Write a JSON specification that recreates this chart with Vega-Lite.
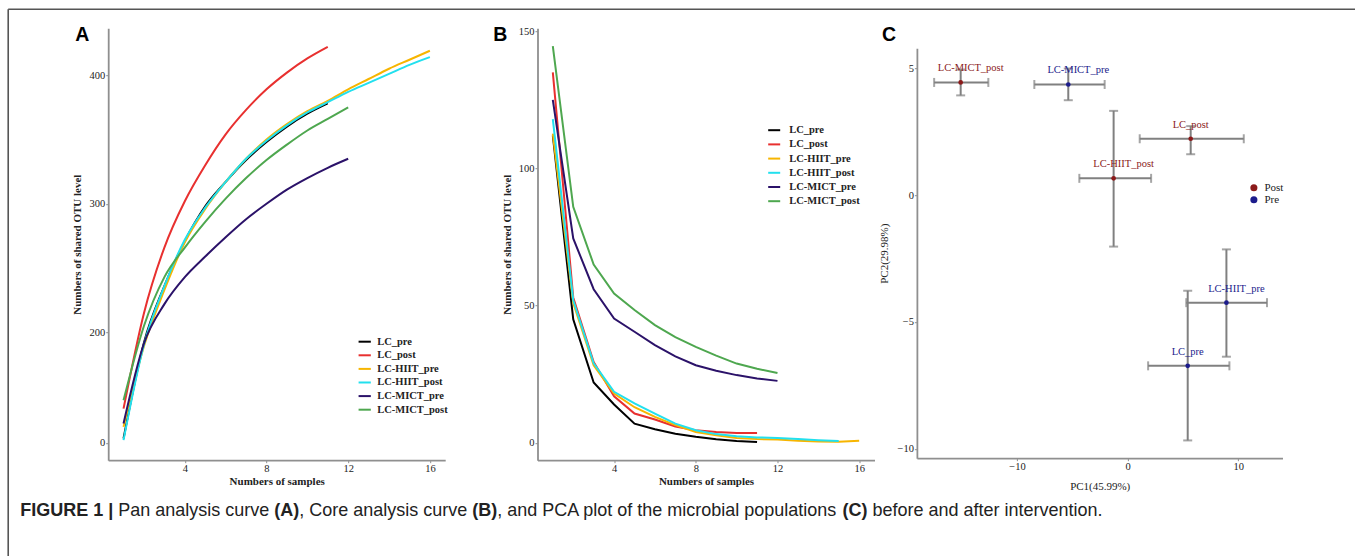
{
 "$schema": "https://vega.github.io/schema/vega-lite/v6.json",
 "padding": {"left": 7.2, "top": 8.2, "right": 0, "bottom": 0},
 "background": "white",
 "config": {
  "view": {"stroke": null},
  "axis": {"grid": false, "domainColor": "#8f8f8f", "domainWidth": 1.8, "tickColor": "#8f8f8f", "tickSize": 2.5, "tickWidth": 1, "labelFont": "Liberation Serif", "labelFontSize": 10.5, "labelColor": "#222", "labelPadding": 1, "titleFont": "Liberation Serif", "titleFontSize": 11, "titleFontWeight": "bold", "titleColor": "#222"},
  "legend": {"labelFont": "Liberation Serif", "labelFontSize": 10.5, "labelFontWeight": "bold", "labelColor": "#222"}
 },
 "datasets": {
  "pan": [
   {"group": "LC_pre", "samples": 1, "otu": 117.6}, {"group": "LC_pre", "samples": 2, "otu": 192}, {"group": "LC_pre", "samples": 3, "otu": 236}, {"group": "LC_pre", "samples": 4, "otu": 271}, {"group": "LC_pre", "samples": 5, "otu": 298}, {"group": "LC_pre", "samples": 6, "otu": 317}, {"group": "LC_pre", "samples": 7, "otu": 334}, {"group": "LC_pre", "samples": 8, "otu": 348}, {"group": "LC_pre", "samples": 9, "otu": 360}, {"group": "LC_pre", "samples": 10, "otu": 370}, {"group": "LC_pre", "samples": 11, "otu": 378},
   {"group": "LC_post", "samples": 1, "otu": 140.8}, {"group": "LC_post", "samples": 2, "otu": 215}, {"group": "LC_post", "samples": 3, "otu": 266}, {"group": "LC_post", "samples": 4, "otu": 302}, {"group": "LC_post", "samples": 5, "otu": 330}, {"group": "LC_post", "samples": 6, "otu": 354}, {"group": "LC_post", "samples": 7, "otu": 373}, {"group": "LC_post", "samples": 8, "otu": 389}, {"group": "LC_post", "samples": 9, "otu": 402}, {"group": "LC_post", "samples": 10, "otu": 413}, {"group": "LC_post", "samples": 11, "otu": 422},
   {"group": "LC-HIIT_pre", "samples": 1, "otu": 126.6}, {"group": "LC-HIIT_pre", "samples": 2, "otu": 189.3}, {"group": "LC-HIIT_pre", "samples": 3, "otu": 233}, {"group": "LC-HIIT_pre", "samples": 4, "otu": 270}, {"group": "LC-HIIT_pre", "samples": 5, "otu": 296}, {"group": "LC-HIIT_pre", "samples": 6, "otu": 317}, {"group": "LC-HIIT_pre", "samples": 7, "otu": 335}, {"group": "LC-HIIT_pre", "samples": 8, "otu": 350}, {"group": "LC-HIIT_pre", "samples": 9, "otu": 362}, {"group": "LC-HIIT_pre", "samples": 10, "otu": 372}, {"group": "LC-HIIT_pre", "samples": 11, "otu": 380}, {"group": "LC-HIIT_pre", "samples": 12, "otu": 389}, {"group": "LC-HIIT_pre", "samples": 13, "otu": 397}, {"group": "LC-HIIT_pre", "samples": 14, "otu": 405}, {"group": "LC-HIIT_pre", "samples": 15, "otu": 412}, {"group": "LC-HIIT_pre", "samples": 16, "otu": 419},
   {"group": "LC-HIIT_post", "samples": 1, "otu": 116.3}, {"group": "LC-HIIT_post", "samples": 2, "otu": 190.6}, {"group": "LC-HIIT_post", "samples": 3, "otu": 236}, {"group": "LC-HIIT_post", "samples": 4, "otu": 272}, {"group": "LC-HIIT_post", "samples": 5, "otu": 297}, {"group": "LC-HIIT_post", "samples": 6, "otu": 317}, {"group": "LC-HIIT_post", "samples": 7, "otu": 335}, {"group": "LC-HIIT_post", "samples": 8, "otu": 349}, {"group": "LC-HIIT_post", "samples": 9, "otu": 361}, {"group": "LC-HIIT_post", "samples": 10, "otu": 371}, {"group": "LC-HIIT_post", "samples": 11, "otu": 379}, {"group": "LC-HIIT_post", "samples": 12, "otu": 387}, {"group": "LC-HIIT_post", "samples": 13, "otu": 394}, {"group": "LC-HIIT_post", "samples": 14, "otu": 401}, {"group": "LC-HIIT_post", "samples": 15, "otu": 408}, {"group": "LC-HIIT_post", "samples": 16, "otu": 414},
   {"group": "LC-MICT_pre", "samples": 1, "otu": 129.2}, {"group": "LC-MICT_pre", "samples": 2, "otu": 191.4}, {"group": "LC-MICT_pre", "samples": 3, "otu": 222}, {"group": "LC-MICT_pre", "samples": 4, "otu": 243}, {"group": "LC-MICT_pre", "samples": 5, "otu": 259}, {"group": "LC-MICT_pre", "samples": 6, "otu": 274}, {"group": "LC-MICT_pre", "samples": 7, "otu": 288}, {"group": "LC-MICT_pre", "samples": 8, "otu": 300}, {"group": "LC-MICT_pre", "samples": 9, "otu": 311}, {"group": "LC-MICT_pre", "samples": 10, "otu": 320}, {"group": "LC-MICT_pre", "samples": 11, "otu": 328}, {"group": "LC-MICT_pre", "samples": 12, "otu": 335},
   {"group": "LC-MICT_post", "samples": 1, "otu": 147.2}, {"group": "LC-MICT_post", "samples": 2, "otu": 205}, {"group": "LC-MICT_post", "samples": 3, "otu": 243}, {"group": "LC-MICT_post", "samples": 4, "otu": 266}, {"group": "LC-MICT_post", "samples": 5, "otu": 286}, {"group": "LC-MICT_post", "samples": 6, "otu": 304}, {"group": "LC-MICT_post", "samples": 7, "otu": 320}, {"group": "LC-MICT_post", "samples": 8, "otu": 334}, {"group": "LC-MICT_post", "samples": 9, "otu": 346}, {"group": "LC-MICT_post", "samples": 10, "otu": 357}, {"group": "LC-MICT_post", "samples": 11, "otu": 366}, {"group": "LC-MICT_post", "samples": 12, "otu": 375}
  ],
  "core": [
   {"group": "LC_pre", "samples": 1, "otu": 112}, {"group": "LC_pre", "samples": 2, "otu": 45}, {"group": "LC_pre", "samples": 3, "otu": 22}, {"group": "LC_pre", "samples": 4, "otu": 14}, {"group": "LC_pre", "samples": 5, "otu": 7}, {"group": "LC_pre", "samples": 6, "otu": 5}, {"group": "LC_pre", "samples": 7, "otu": 3.3}, {"group": "LC_pre", "samples": 8, "otu": 2.2}, {"group": "LC_pre", "samples": 9, "otu": 1.3}, {"group": "LC_pre", "samples": 10, "otu": 0.7}, {"group": "LC_pre", "samples": 11, "otu": 0.3},
   {"group": "LC_post", "samples": 1, "otu": 135}, {"group": "LC_post", "samples": 2, "otu": 53}, {"group": "LC_post", "samples": 3, "otu": 29.5}, {"group": "LC_post", "samples": 4, "otu": 17}, {"group": "LC_post", "samples": 5, "otu": 10.7}, {"group": "LC_post", "samples": 6, "otu": 8.5}, {"group": "LC_post", "samples": 7, "otu": 6}, {"group": "LC_post", "samples": 8, "otu": 4.6}, {"group": "LC_post", "samples": 9, "otu": 4}, {"group": "LC_post", "samples": 10, "otu": 3.6}, {"group": "LC_post", "samples": 11, "otu": 3.6},
   {"group": "LC-HIIT_pre", "samples": 1, "otu": 112.7}, {"group": "LC-HIIT_pre", "samples": 2, "otu": 51}, {"group": "LC-HIIT_pre", "samples": 3, "otu": 28.3}, {"group": "LC-HIIT_pre", "samples": 4, "otu": 18}, {"group": "LC-HIIT_pre", "samples": 5, "otu": 13}, {"group": "LC-HIIT_pre", "samples": 6, "otu": 9.5}, {"group": "LC-HIIT_pre", "samples": 7, "otu": 6.5}, {"group": "LC-HIIT_pre", "samples": 8, "otu": 4}, {"group": "LC-HIIT_pre", "samples": 9, "otu": 2.8}, {"group": "LC-HIIT_pre", "samples": 10, "otu": 1.8}, {"group": "LC-HIIT_pre", "samples": 11, "otu": 1.4}, {"group": "LC-HIIT_pre", "samples": 12, "otu": 1.2}, {"group": "LC-HIIT_pre", "samples": 13, "otu": 0.8}, {"group": "LC-HIIT_pre", "samples": 14, "otu": 0.5}, {"group": "LC-HIIT_pre", "samples": 15, "otu": 0.4}, {"group": "LC-HIIT_pre", "samples": 16, "otu": 0.8},
   {"group": "LC-HIIT_post", "samples": 1, "otu": 118}, {"group": "LC-HIIT_post", "samples": 2, "otu": 52}, {"group": "LC-HIIT_post", "samples": 3, "otu": 29}, {"group": "LC-HIIT_post", "samples": 4, "otu": 18.6}, {"group": "LC-HIIT_post", "samples": 5, "otu": 14.4}, {"group": "LC-HIIT_post", "samples": 6, "otu": 10.7}, {"group": "LC-HIIT_post", "samples": 7, "otu": 7}, {"group": "LC-HIIT_post", "samples": 8, "otu": 4.6}, {"group": "LC-HIIT_post", "samples": 9, "otu": 3.2}, {"group": "LC-HIIT_post", "samples": 10, "otu": 2.4}, {"group": "LC-HIIT_post", "samples": 11, "otu": 2}, {"group": "LC-HIIT_post", "samples": 12, "otu": 1.8}, {"group": "LC-HIIT_post", "samples": 13, "otu": 1.4}, {"group": "LC-HIIT_post", "samples": 14, "otu": 1}, {"group": "LC-HIIT_post", "samples": 15, "otu": 0.7},
   {"group": "LC-MICT_pre", "samples": 1, "otu": 125}, {"group": "LC-MICT_pre", "samples": 2, "otu": 74.5}, {"group": "LC-MICT_pre", "samples": 3, "otu": 56}, {"group": "LC-MICT_pre", "samples": 4, "otu": 45.3}, {"group": "LC-MICT_pre", "samples": 5, "otu": 40.5}, {"group": "LC-MICT_pre", "samples": 6, "otu": 35.6}, {"group": "LC-MICT_pre", "samples": 7, "otu": 31.5}, {"group": "LC-MICT_pre", "samples": 8, "otu": 28.3}, {"group": "LC-MICT_pre", "samples": 9, "otu": 26.3}, {"group": "LC-MICT_pre", "samples": 10, "otu": 24.7}, {"group": "LC-MICT_pre", "samples": 11, "otu": 23.5}, {"group": "LC-MICT_pre", "samples": 12, "otu": 22.6},
   {"group": "LC-MICT_post", "samples": 1, "otu": 144.6}, {"group": "LC-MICT_post", "samples": 2, "otu": 86}, {"group": "LC-MICT_post", "samples": 3, "otu": 65}, {"group": "LC-MICT_post", "samples": 4, "otu": 54.4}, {"group": "LC-MICT_post", "samples": 5, "otu": 48.4}, {"group": "LC-MICT_post", "samples": 6, "otu": 42.9}, {"group": "LC-MICT_post", "samples": 7, "otu": 38.5}, {"group": "LC-MICT_post", "samples": 8, "otu": 35}, {"group": "LC-MICT_post", "samples": 9, "otu": 31.8}, {"group": "LC-MICT_post", "samples": 10, "otu": 28.9}, {"group": "LC-MICT_post", "samples": 11, "otu": 27}, {"group": "LC-MICT_post", "samples": 12, "otu": 25.5}
  ],
  "pca": [
   {"group": "LC-MICT_post", "status": "Post", "pc1": -15.1, "pc2": 4.44, "x_lo": -17.5, "x_hi": -12.6, "y_lo": 3.93, "y_hi": 4.95},
   {"group": "LC-MICT_pre", "status": "Pre", "pc1": -5.37, "pc2": 4.36, "x_lo": -8.44, "x_hi": -2.08, "y_lo": 3.74, "y_hi": 4.99},
   {"group": "LC_post", "status": "Post", "pc1": 5.7, "pc2": 2.22, "x_lo": 1.09, "x_hi": 10.5, "y_lo": 1.61, "y_hi": 2.72},
   {"group": "LC-HIIT_post", "status": "Post", "pc1": -1.27, "pc2": 0.66, "x_lo": -4.37, "x_hi": 2.12, "y_lo": -2.03, "y_hi": 3.32},
   {"group": "LC-HIIT_pre", "status": "Pre", "pc1": 8.93, "pc2": -4.24, "x_lo": 5.3, "x_hi": 12.6, "y_lo": -6.37, "y_hi": -2.14},
   {"group": "LC_pre", "status": "Pre", "pc1": 5.43, "pc2": -6.73, "x_lo": 1.85, "x_hi": 9.2, "y_lo": -9.67, "y_hi": -3.77}
  ],
  "caption": [
   {"text": "FIGURE 1 |", "kind": "bold", "start": 0},
   {"text": "Pan analysis curve", "kind": "plain", "start": 98.1},
   {"text": "(A)", "kind": "bold", "start": 254.1},
   {"text": ", Core analysis curve", "kind": "plain", "start": 279.1},
   {"text": "(B)", "kind": "bold", "start": 452.1},
   {"text": ", and PCA plot of the microbial populations", "kind": "plain", "start": 477.1},
   {"text": "(C)", "kind": "bold", "start": 822.3},
   {"text": "before and after intervention.", "kind": "plain", "start": 852.3}
  ],
  "frame": [
   {"side": "top", "x1": 0, "x2": 1, "y1": 0, "y2": 0},
   {"side": "left", "x1": 0, "x2": 0, "y1": 0, "y2": 1}
  ]
 },
 "bounds": "flush",
 "spacing": 92.3,
 "resolve": {"scale": {"color": "independent"}, "legend": {"color": "independent"}},
 "hconcat": [
  {
   "width": 337, "height": 432,
   "title": {"text": "A", "anchor": "start", "frame": "group", "font": "Liberation Sans", "fontSize": 19.5, "fontWeight": "bold", "color": "#000", "offset": 0, "baseline": "bottom", "dx": -33, "dy": 56},
   "resolve": {"scale": {"x": "independent", "y": "independent", "color": "independent"}},
   "layer": [
    {
     "data": {"name": "pan"},
     "mark": {"type": "line", "interpolate": "monotone", "strokeWidth": 2},
     "encoding": {
      "x": {"field": "samples", "type": "quantitative", "scale": {"domain": [0.25, 16.75], "nice": false, "zero": false}, "axis": {"values": [4, 8, 12, 16], "title": "Numbers of samples", "titlePadding": 1}},
      "y": {"field": "otu", "type": "quantitative", "scale": {"domain": [100.7, 436.5], "nice": false, "zero": false}, "axis": {"values": [114.2, 200, 300, 400], "labelExpr": "datum.value < 150 ? '0' : datum.label", "title": "Numbers of shared OTU level", "titlePadding": 6}},
      "color": {"field": "group", "type": "nominal",
       "scale": {"domain": ["LC_pre", "LC_post", "LC-HIIT_pre", "LC-HIIT_post", "LC-MICT_pre", "LC-MICT_post"], "range": ["#000000", "#e8302f", "#f7b500", "#22e0ee", "#2b1269", "#4ea74f"]},
       "legend": {"title": null, "orient": "none", "legendX": 249, "legendY": 306, "symbolType": "stroke", "symbolStrokeWidth": 2, "symbolSize": 150, "rowPadding": 0.6, "labelOffset": 5}}
     }
    },
    {
     "data": {"name": "caption"},
     "transform": [{"filter": "datum.kind == 'bold'"}],
     "mark": {"type": "text", "align": "left", "baseline": "middle", "font": "Liberation Sans", "fontSize": 18, "fontWeight": "bold", "color": "#222"},
     "encoding": {"x": {"field": "start", "type": "quantitative", "scale": {"domain": [0, 1088], "range": [-88, 1000]}, "axis": null}, "y": {"datum": 0, "type": "quantitative", "scale": {"domain": [-1, 1], "range": [493, 473]}, "axis": null}, "text": {"field": "text"}}
    },
    {
     "data": {"name": "caption"},
     "transform": [{"filter": "datum.kind == 'plain'"}],
     "mark": {"type": "text", "align": "left", "baseline": "middle", "font": "Liberation Sans", "fontSize": 18, "color": "#222"},
     "encoding": {"x": {"field": "start", "type": "quantitative", "scale": {"domain": [0, 1088], "range": [-88, 1000]}, "axis": null}, "y": {"datum": 0, "type": "quantitative", "scale": {"domain": [-1, 1], "range": [493, 473]}, "axis": null}, "text": {"field": "text"}}
    },
    {
     "data": {"name": "frame"},
     "mark": {"type": "rule", "color": "#555", "strokeWidth": 1.6},
     "encoding": {
      "x": {"field": "x1", "type": "quantitative", "scale": {"domain": [0, 1], "range": [-100, 1247]}, "axis": null},
      "x2": {"field": "x2"},
      "y": {"field": "y1", "type": "quantitative", "scale": {"domain": [0, 1], "range": [-19, 528]}, "axis": null},
      "y2": {"field": "y2"}
     }
    }
   ]
  },
  {
   "bounds": "flush",
   "spacing": 42.4,
   "resolve": {"scale": {"color": "independent"}, "legend": {"color": "independent"}},
   "hconcat": [
    {
     "width": 337, "height": 432,
     "title": {"text": "B", "anchor": "start", "frame": "bounds", "font": "Liberation Sans", "fontSize": 19.5, "fontWeight": "bold", "color": "#000", "offset": 0, "baseline": "bottom", "dx": -8, "dy": 38},
     "data": {"name": "core"},
     "mark": {"type": "line", "strokeWidth": 2},
     "encoding": {
      "x": {"field": "samples", "type": "quantitative", "scale": {"domain": [0.25, 16.75], "nice": false, "zero": false}, "axis": {"values": [4, 8, 12, 16], "title": "Numbers of samples", "titlePadding": 1}},
      "y": {"field": "otu", "type": "quantitative", "scale": {"domain": [-6.3, 151.1], "nice": false, "zero": false}, "axis": {"values": [0, 50, 100, 150], "title": "Numbers of shared OTU level", "titlePadding": 6}},
      "color": {"field": "group", "type": "nominal",
       "scale": {"domain": ["LC_pre", "LC_post", "LC-HIIT_pre", "LC-HIIT_post", "LC-MICT_pre", "LC-MICT_post"], "range": ["#000000", "#e8302f", "#f7b500", "#22e0ee", "#2b1269", "#4ea74f"]},
       "legend": {"title": null, "orient": "none", "legendX": 229.7, "legendY": 95, "symbolType": "stroke", "symbolStrokeWidth": 2, "symbolSize": 144, "rowPadding": 1.2, "labelOffset": 8}}
     }
    },
    {
     "bounds": "flush",
     "spacing": 19,
     "resolve": {"scale": {"color": "independent"}, "legend": {"color": "independent"}},
     "vconcat": [
      {"width": 1, "height": 1, "data": {"values": [{}]}, "mark": {"type": "text", "text": ""}, "encoding": {}},
      {
       "width": 365.6, "height": 410,
       "title": {"text": "C", "anchor": "start", "frame": "bounds", "font": "Liberation Sans", "fontSize": 19.5, "fontWeight": "bold", "color": "#000", "offset": 0, "baseline": "bottom", "dx": 3, "dy": 16},
       "data": {"name": "pca"},
       "layer": [
        {
         "mark": {"type": "errorbar", "color": "#808080", "thickness": 2, "ticks": {"size": 9, "thickness": 2, "color": "#808080"}},
         "encoding": {
          "x": {"field": "x_lo", "type": "quantitative", "scale": {"domain": [-19.06, 14.0], "nice": false, "zero": false}, "axis": {"values": [-10, 0, 10], "title": "PC1(45.99%)", "titleFontWeight": "normal", "titlePadding": 8}},
          "x2": {"field": "x_hi"},
          "y": {"field": "pc2", "type": "quantitative", "scale": {"domain": [-10.37, 5.79], "nice": false, "zero": false}, "axis": {"values": [-10, -5, 0, 5], "title": "PC2(29.98%)", "titleFontWeight": "normal", "titlePadding": 7}}
         }
        },
        {
         "mark": {"type": "errorbar", "color": "#808080", "thickness": 2, "ticks": {"size": 9, "thickness": 2, "color": "#808080"}},
         "encoding": {
          "x": {"field": "pc1", "type": "quantitative", "scale": {"domain": [-19.06, 14.0], "nice": false, "zero": false}, "axis": {"values": [-10, 0, 10], "title": "PC1(45.99%)", "titleFontWeight": "normal", "titlePadding": 8}},
          "y": {"field": "y_lo", "type": "quantitative", "scale": {"domain": [-10.37, 5.79], "nice": false, "zero": false}, "axis": {"values": [-10, -5, 0, 5], "title": "PC2(29.98%)", "titleFontWeight": "normal", "titlePadding": 7}},
          "y2": {"field": "y_hi"}
         }
        },
        {
         "mark": {"type": "point", "filled": true, "size": 22, "opacity": 1},
         "encoding": {
          "x": {"field": "pc1", "type": "quantitative", "scale": {"domain": [-19.06, 14.0], "nice": false, "zero": false}, "axis": {"values": [-10, 0, 10], "title": "PC1(45.99%)", "titleFontWeight": "normal", "titlePadding": 8}},
          "y": {"field": "pc2", "type": "quantitative", "scale": {"domain": [-10.37, 5.79], "nice": false, "zero": false}, "axis": {"values": [-10, -5, 0, 5], "title": "PC2(29.98%)", "titleFontWeight": "normal", "titlePadding": 7}},
          "color": {"field": "status", "type": "nominal", "scale": {"domain": ["Post", "Pre"], "range": ["#8b1a1a", "#1c1c8c"]},
           "legend": {"title": null, "orient": "none", "legendX": 331.5, "legendY": 134, "symbolType": "circle", "symbolSize": 50, "rowPadding": 0, "labelOffset": 5, "labelFontWeight": "normal", "labelFontSize": 11}}
         }
        },
        {
         "transform": [{"filter": "indexof(datum.group, '-') < 0"}],
         "mark": {"type": "text", "dy": -14, "font": "Liberation Serif", "fontSize": 10.5},
         "encoding": {
          "x": {"field": "pc1", "type": "quantitative"},
          "y": {"field": "pc2", "type": "quantitative"},
          "text": {"field": "group"},
          "color": {"field": "status", "type": "nominal", "legend": null}
         }
        },
        {
         "transform": [{"filter": "indexof(datum.group, '-') >= 0"}],
         "mark": {"type": "text", "dy": -14, "dx": 10, "font": "Liberation Serif", "fontSize": 10.5},
         "encoding": {
          "x": {"field": "pc1", "type": "quantitative"},
          "y": {"field": "pc2", "type": "quantitative"},
          "text": {"field": "group"},
          "color": {"field": "status", "type": "nominal", "legend": null}
         }
        }
       ]
      }
     ]
    }
   ]
  }
 ]
}
